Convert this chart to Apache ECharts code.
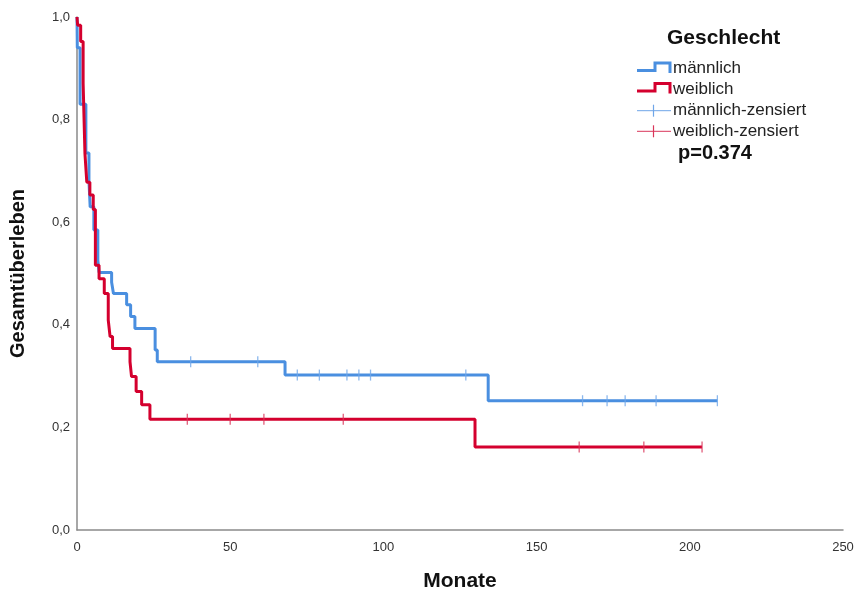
<!DOCTYPE html>
<html>
<head>
<meta charset="utf-8">
<script src="https://cdn.jsdelivr.net/npm/echarts@6/dist/echarts.min.js"></script>
<style>
html,body{margin:0;padding:0;background:#fff;overflow:hidden;}
#chart{width:855px;height:593px;}
</style>
</head>
<body>
<div id="chart"></div>
<script>
// ---- data ----
const maleTimes = [0, 0.1, 1.0, 2.9, 3.9, 4.3, 5.5, 6.8, 7.2, 11.3, 11.9, 16.2, 17.5, 18.9, 25.5, 26.2, 67.9, 134.2, 209.0];
const maleSurv  = [1.0, 0.94, 0.83, 0.735, 0.68, 0.63, 0.585, 0.526, 0.502, 0.483, 0.461, 0.439, 0.416, 0.393, 0.351, 0.328, 0.302, 0.252, 0.252];
const femaleTimes = [0, 0.2, 1.2, 2.0, 2.6, 3.2, 4.2, 5.3, 6.0, 7.2, 8.9, 10.2, 10.8, 11.6, 17.3, 17.8, 19.3, 21.1, 23.8, 129.9, 204.0];
const femaleSurv  = [1.0, 0.984, 0.952, 0.871, 0.733, 0.678, 0.653, 0.625, 0.516, 0.49, 0.461, 0.409, 0.377, 0.354, 0.328, 0.299, 0.27, 0.244, 0.216, 0.162, 0.162];
const maleCensored = [37.1, 59.0, 71.9, 79.1, 88.1, 92.0, 95.8, 126.9, 165.0, 173.0, 178.9, 189.0, 209.0];
const femaleCensored = [36.0, 50.0, 61.0, 86.9, 163.9, 185.0, 204.0];
const xTicks = {min: 0, max: 250, interval: 50};
const yTicks = {min: 0, max: 1, interval: 0.2};
const legendTitle = 'Geschlecht';
const groupNames = ['männlich', 'weiblich', 'männlich-zensiert', 'weiblich-zensiert'];
const pValueText = 'p=0.374';

// ---- helpers ----
function stepAt(times, surv, t) {
  let v = surv[0];
  for (let i = 0; i < times.length; i++) { if (times[i] <= t) v = surv[i]; }
  return v;
}
const zip = (a, b) => a.map((v, i) => [v, b[i]]);

const BLUE = '#4a8fe0', RED = '#d4002e', BLUE_L = '#6fa6e8', RED_L = '#d9365a';
const FONT = '"Liberation Sans", Arial, sans-serif';

const chart = echarts.init(document.getElementById('chart'));
const LX = 637, TX = 673, ROW = 20.6;
function stepIcon(y, color) {
  return {type:'polyline', shape:{points:[[LX,y+2],[LX+18,y+2],[LX+18,y-5.5],[LX+33,y-5.5],[LX+33,y+4.5]]},
          style:{stroke:color, lineWidth:3, fill:null}};
}
function plusIcon(y, color) {
  return [
    {type:'line', shape:{x1:LX, y1:y, x2:LX+34, y2:y}, style:{stroke:color, lineWidth:1}},
    {type:'line', shape:{x1:LX+16.5, y1:y-6, x2:LX+16.5, y2:y+6}, style:{stroke:color, lineWidth:1.2}}
  ];
}
function label(y, text) {
  return {type:'text', x: TX, y: y, style:{text:text, font:'17px ' + FONT, fill:'#222', textVerticalAlign:'middle'}};
}
const y0 = 68.5;
const graphics = [
  {type:'text', x: 667, y: 38.5, style:{text:legendTitle, font:'bold 21px ' + FONT, fill:'#111', textVerticalAlign:'middle'}},
  stepIcon(y0, BLUE), label(y0, groupNames[0]),
  stepIcon(y0 + ROW, RED), label(y0 + ROW, groupNames[1]),
  ...plusIcon(y0 + 2*ROW + 1, BLUE_L), label(y0 + 2*ROW + 1, groupNames[2]),
  ...plusIcon(y0 + 3*ROW + 1, RED_L), label(y0 + 3*ROW + 1, groupNames[3]),
  {type:'text', x: 678, y: 153, style:{text:pValueText, font:'bold 20px ' + FONT, fill:'#111', textVerticalAlign:'middle'}}
];

chart.setOption({
  animation: false,
  backgroundColor: '#fff',
  grid: {left: 77, right: 12, top: 17, bottom: 63, containLabel: false, outerBoundsMode: 'none'},
  xAxis: {
    type: 'value', min: xTicks.min, max: xTicks.max, interval: xTicks.interval,
    name: 'Monate', nameLocation: 'middle', nameGap: 41,
    nameTextStyle: {fontFamily: FONT, fontWeight: 'bold', fontSize: 21, color: '#111'},
    axisLine: {show: true, lineStyle: {color: '#8a8a8a', width: 1.5}},
    axisTick: {show: false},
    splitLine: {show: false},
    axisLabel: {fontFamily: FONT, fontSize: 13, color: '#333', margin: 11}
  },
  yAxis: {
    type: 'value', min: yTicks.min, max: yTicks.max, interval: yTicks.interval,
    name: 'Gesamtüberleben', nameLocation: 'middle', nameGap: 49,
    nameTextStyle: {fontFamily: FONT, fontWeight: 'bold', fontSize: 20, color: '#111'},
    axisLine: {show: true, lineStyle: {color: '#8a8a8a', width: 1.5}},
    axisTick: {show: false},
    splitLine: {show: false},
    axisLabel: {fontFamily: FONT, fontSize: 13, color: '#333', margin: 7, padding: [5, 0, 0, 0],
      formatter: v => v.toFixed(1).replace('.', ',')}
  },
  series: [
    {type: 'line', step: 'end', data: zip(maleTimes, maleSurv), showSymbol: false,
     lineStyle: {color: BLUE, width: 3}, z: 2},
    {type: 'line', step: 'end', data: zip(femaleTimes, femaleSurv), showSymbol: false,
     lineStyle: {color: RED, width: 3}, z: 3},
    {type: 'scatter', data: maleCensored.map(t => [t, stepAt(maleTimes, maleSurv, t)]),
     symbol: 'rect', symbolSize: [1.3, 11], itemStyle: {color: BLUE_L}, z: 4},
    {type: 'scatter', data: femaleCensored.map(t => [t, stepAt(femaleTimes, femaleSurv, t)]),
     symbol: 'rect', symbolSize: [1.3, 11], itemStyle: {color: RED_L}, z: 4}
  ],
  graphic: graphics
});
</script>
</body>
</html>
